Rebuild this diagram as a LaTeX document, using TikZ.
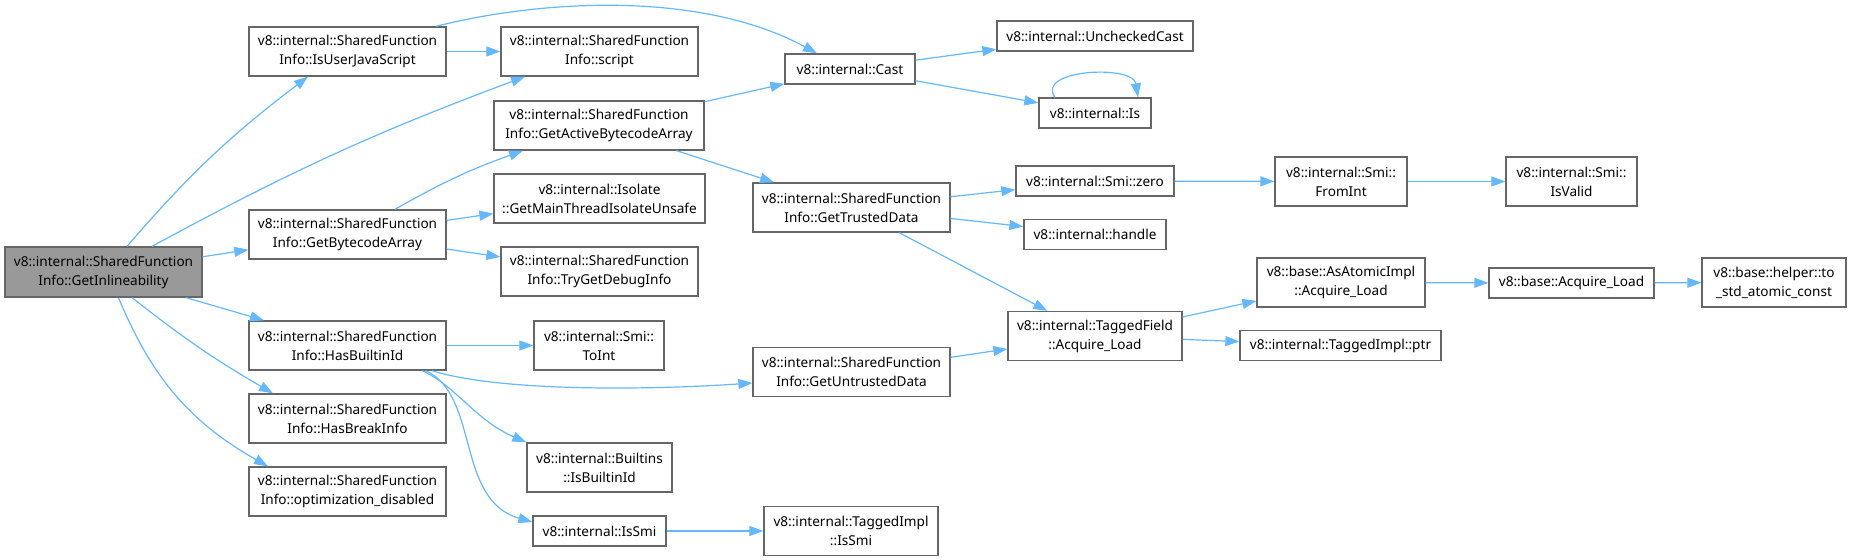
\documentclass[tikz,border=0pt]{standalone}
\usepackage{fontspec}
\setmainfont{Noto Sans}
\usepackage{tikz}
\usetikzlibrary{arrows.meta}
\definecolor{callblue}{HTML}{63B8FF}
\definecolor{boxgray}{HTML}{666666}
\definecolor{maingray}{HTML}{999999}
\tikzset{
	fnbox/.style={draw=boxgray,line width=0.65pt,fill=white,align=center,inner sep=1pt,minimum height=24.5pt,font=\fontsize{6.8}{9.5}\selectfont},
	onerow/.style={minimum height=15pt},
	callarrow/.style={draw=callblue,line width=0.6pt,-{Triangle[length=7pt,width=5pt]}}
}
\begin{document}
\begin{tikzpicture}[x=0.5pt,y=-0.5pt]
	\useasboundingbox (0,0) rectangle (1850,560);
	\begin{scope}[every node/.style={fnbox}]
	\node[fill=maingray,minimum width=98.5pt,minimum height=25pt] (inl) at (103.5,272) {v8::internal::SharedFunction\\Info::GetInlineability};
	\node[minimum width=98.5pt] (iujs) at (347.5,51.5) {v8::internal::SharedFunction\\Info::IsUserJavaScript};
	\node[minimum width=98.5pt] (gba) at (347.5,234.5) {v8::internal::SharedFunction\\Info::GetBytecodeArray};
	\node[minimum width=98.5pt] (hbi) at (347.5,345.5) {v8::internal::SharedFunction\\Info::HasBuiltinId};
	\node[minimum width=98.5pt] (hbrk) at (347.5,418.5) {v8::internal::SharedFunction\\Info::HasBreakInfo};
	\node[minimum width=98.5pt] (optd) at (347.5,491.5) {v8::internal::SharedFunction\\Info::optimization\_disabled};
	\node[minimum width=98.5pt] (scr) at (599.5,51.5) {v8::internal::SharedFunction\\Info::script};
	\node[minimum width=105pt] (gaba) at (599,125.5) {v8::internal::SharedFunction\\Info::GetActiveBytecodeArray};
	\node[minimum width=105.5pt] (iso) at (599.5,198.5) {v8::internal::Isolate\\::GetMainThreadIsolateUnsafe};
	\node[minimum width=98.5pt] (tgdi) at (599.5,271.5) {v8::internal::SharedFunction\\Info::TryGetDebugInfo};
	\node[minimum width=65pt] (toint) at (599,345.5) {v8::internal::Smi::\\ToInt};
	\node[minimum width=72.5pt] (bibi) at (599.5,467.5) {v8::internal::Builtins\\::IsBuiltinId};
	\node[onerow,minimum width=66.5pt] (issmi) at (599.5,531) {v8::internal::IsSmi};
	\node[onerow,minimum width=65pt] (cast) at (850,69) {v8::internal::Cast};
	\node[minimum width=98.5pt] (gtd) at (851.5,207.5) {v8::internal::SharedFunction\\Info::GetTrustedData};
	\node[minimum width=98.5pt] (gud) at (851.5,372) {v8::internal::SharedFunction\\Info::GetUntrustedData};
	\node[minimum width=87pt] (tissmi) at (851,531) {v8::internal::TaggedImpl\\::IsSmi};
	\node[minimum width=87pt] (tfal) at (1095,336) {v8::internal::TaggedField\\::Acquire\_Load};
	\node[onerow,minimum width=98pt] (ucast) at (1095,36) {v8::internal::UncheckedCast};
	\node[onerow,minimum width=56pt] (isn) at (1095,113) {v8::internal::Is};
	\node[onerow,minimum width=79pt] (zero) at (1095,181) {v8::internal::Smi::zero};
	\node[onerow,minimum width=71pt] (hdl) at (1095,234.5) {v8::internal::handle};
	\node[minimum width=66pt] (fint) at (1341,181.5) {v8::internal::Smi::\\FromInt};
	\node[minimum width=65.5pt] (isv) at (1571.5,181.5) {v8::internal::Smi::\\IsValid};
	\node[minimum width=84pt] (aai) at (1341,282.5) {v8::base::AsAtomicImpl\\::Acquire\_Load};
	\node[onerow,minimum width=100.5pt] (ptr) at (1340.5,345.5) {v8::internal::TaggedImpl::ptr};
	\node[onerow,minimum width=82.5pt] (bal) at (1571.5,283) {v8::base::Acquire\_Load};
	\node[minimum width=72pt] (tsac) at (1774,282.5) {v8::base::helper::to\\\_std\_atomic\_const};
	\end{scope}
	\draw [callarrow] ([xshift=11.75pt]inl.north) to[bend left=6] ([xshift=-19.75pt]iujs.south);
	\draw [callarrow] ([xshift=24.25pt]inl.north) to[bend left=4] ([xshift=-37.25pt]scr.south);
	\draw [callarrow] (inl) -- (gba);
	\draw [callarrow] ([xshift=41.25pt]inl.south) -- ([xshift=-41.75pt]hbi.north);
	\draw [callarrow] ([xshift=14.25pt]inl.south) to[bend right=4] ([xshift=-37.25pt]hbrk.north);
	\draw [callarrow] ([xshift=7.5pt]inl.south) to[bend right=19] ([xshift=-39.75pt]optd.north);
	\draw [callarrow] (iujs) -- (scr);
	\draw [callarrow] ([xshift=44.25pt]iujs.north) .. controls (540,0) and (700,-10) .. ([xshift=-16.5pt]cast.north);
	\draw [callarrow] ([xshift=23.75pt]gba.north) to[bend left=5] ([xshift=-38pt]gaba.south);
	\draw [callarrow] (gba) -- (iso);
	\draw [callarrow] (gba) -- (tgdi);
	\draw [callarrow] (gaba) -- (cast);
	\draw [callarrow] (gaba) -- (gtd);
	\draw [callarrow] (hbi) -- (toint);
	\draw [callarrow] ([xshift=42.25pt]hbi.south) .. controls (500,392) and (650,390) .. ([yshift=-5.5pt]gud.west);
	\draw [callarrow] ([xshift=37.25pt]hbi.south) .. controls (455,385) and (475,420) .. (bibi.north west);
	\draw [callarrow] ([xshift=39pt]hbi.south) .. controls (480,395) and (455,500) .. ([yshift=4.5pt]issmi.west);
	\draw [callarrow] (issmi) -- (tissmi);
	\draw [callarrow] (cast) -- (ucast);
	\draw [callarrow] (cast) -- (isn);
	\draw [callarrow] ([xshift=-20pt]isn.north) .. controls +(-10pt,14pt) and +(-2.5pt,16.5pt) .. ([xshift=21.5pt]isn.north);
	\draw [callarrow] (gtd) -- (zero);
	\draw [callarrow] (gtd) -- (hdl);
	\draw [callarrow] (gtd) -- (tfal);
	\draw [callarrow] (gud) -- (tfal);
	\draw [callarrow] (zero) -- (fint);
	\draw [callarrow] (fint) -- (isv);
	\draw [callarrow] (tfal) -- (aai);
	\draw [callarrow] (tfal) -- (ptr);
	\draw [callarrow] (aai) -- (bal);
	\draw [callarrow] (bal) -- (tsac);
\end{tikzpicture}
\end{document}
